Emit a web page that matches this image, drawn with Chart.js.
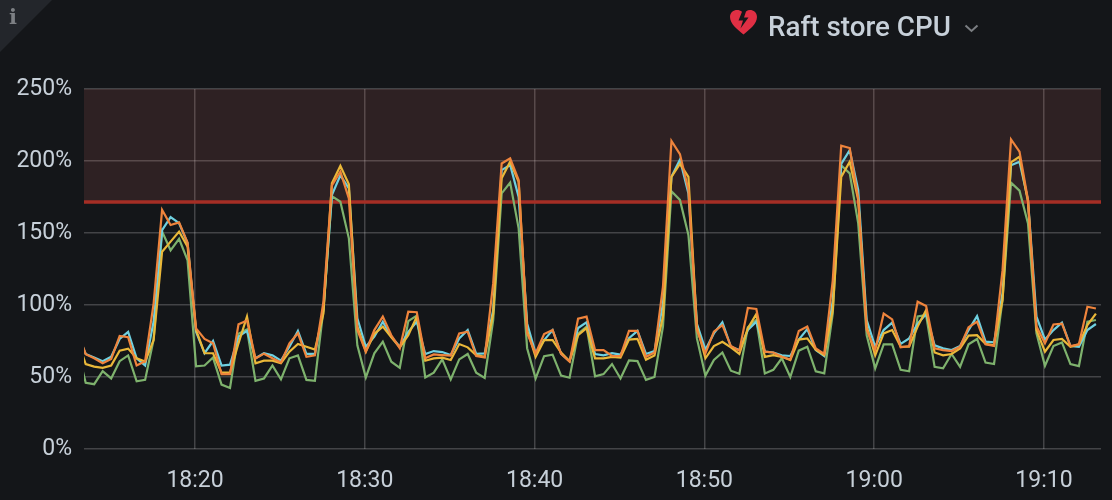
<!DOCTYPE html>
<html>
<head>
<meta charset="utf-8">
<title>Raft store CPU</title>
<script src="https://cdn.jsdelivr.net/npm/chart.js@4"></script>
<style>
  body { margin: 0; background: #141619; width: 1112px; height: 500px; overflow: hidden; position: relative; }
  canvas { position: absolute; left: 0; top: 0; }
  #corner { position: absolute; left: 0; top: 0; width: 52px; height: 52px; background: #23262b; clip-path: polygon(0 0, 100% 0, 0 100%); }
  #info { position: absolute; left: 9px; top: 4px; font: bold 21px "DejaVu Serif"; color: #7d8084; }
  #title { position: absolute; left: 768px; top: 10px; font: 500 27.8px Roboto; line-height: 34px; color: #c7d0d9; white-space: nowrap; }
  #heart { position: absolute; left: 729px; top: 9px; }
  #chevron { position: absolute; left: 964px; top: 24px; }
</style>
</head>
<body>
<canvas id="cpuChart" width="1112" height="500"></canvas>
<div id="corner"></div>
<div id="info">i</div>
<svg id="heart" width="29" height="26" viewBox="0 0 29 26">
  <path fill="#e02f44" d="M14.5 25.5 C9 21 1 15 1 8 C1 3.5 4.5 1 8 1 C10 1 11.5 1.6 13 2.8 L9.5 11.5 L14 11.5 L11.5 19.5 L19.5 8.5 L15 8.5 L17 2.4 C18.3 1.5 19.6 1 21 1 C24.5 1 28 3.5 28 8 C28 15 20 21 14.5 25.5 Z"/>
</svg>
<div id="title">Raft store CPU</div>
<svg id="chevron" width="15" height="9" viewBox="0 0 15 9">
  <path d="M1.5 1.5 L7.5 7 L13.5 1.5" fill="none" stroke="#7b7e82" stroke-width="2"/>
</svg>
<script>
// one sample every 30s, first one just off the left edge
const firstSample = 1093.06; // minutes after midnight
const sampleStep = 0.5;
const axisMin = 1093.46;
const axisMax = 1153.36;

const yTicks = [0, 50, 100, 150, 200, 250];
const threshold = 171.5;

const orangeVals = [82,
  65.8,63,59.5,62.5,78.5,77.6,58,61,101,166,155.6,157.4,143.3,83.8,76.4,73.4,52,52,86.6,89.2,62.8,66.2,63,60,73.4,80.4,64,65,102,
  183,192.6,174,82.6,67.6,82.6,92,79,70,95.3,95,63,65.7,65.2,64.8,80.3,81.4,64.5,63.6,115,198.3,201.8,186.8,80.3,66.4,79.8,82.6,
  66,60.6,90.5,91.9,68.7,68.7,64.6,64.6,82,82,64,67,112.7,213.9,204.8,180,82.6,66.4,81.5,86,71.5,68.3,97.9,97.2,67.6,67,64,
  62.2,82,85,69.9,66,117,210.6,209,174,82.6,68.7,94,90,70.6,71.5,102.3,99.3,69.9,68.7,68,
  71,84.5,88.4,72.7,71.5,124,215,206.5,173,85,73.4,86.5,87,71.5,72.7,98.8,97.6];
const cyanVals = [80,
  66,63.5,61,64,76.4,81.3,63,58,88.5,152,161,156.8,143,81.5,66.5,75,58,58.6,78,82,63,66.5,65,61.4,71,82,66,66,96.6,
  176.4,190,181,90.7,71,78,88.4,78,71,81.4,88.4,66,68,67.3,65.2,76.8,82.6,66,66.4,96.5,193.7,197.2,175,87.2,66.4,75.6,82.6,
  66,61,84,88,66,65,66.5,65.5,77,82,66,68,101,189,201,177.5,87,69,80.3,88,71,68.7,82.6,88.4,67.6,67,65,
  64.6,76,83.3,68.7,64.6,103,198,207.6,180,89.6,71,82.6,87.7,73,76.8,87,93.7,72,69.9,68.7,
  71.5,82.6,92.3,74.5,74,108,197,199.5,173,91.9,76,82.6,87.7,71.5,71,82.6,86.8];
const yellowVals = [76,
  59,57.2,56.3,58,68.3,69.7,63,60.7,75.7,137,144,151,140.5,82.7,66.5,66.5,53,53,73.4,92,59.5,61.4,61.4,59.5,67.6,73,71,69,94,
  184.5,196.7,183.8,85,67.6,80,85,77.5,70.6,79,92,61.3,62.9,63.4,61.8,72.9,70.6,65.2,64,94,188,199.5,185.6,82.6,64,75.6,75.6,
  67,61,79,84,63,63,64,63.5,76,76.5,62,65,92,189,198,189,85,63,71.5,74.5,70.6,66,83.8,93.7,64,65.2,64,
  61.8,76,76.8,69,65.2,96.5,189,199.5,173,85,65,80.3,82.6,71,71,85,96.5,67,65,66,
  69.9,78.7,79,73,72,103.5,199,203,171.7,82.6,67.6,75.7,76.4,71,72.7,86,94];
const greenVals = [70,
  46,45,54,49,61,65,47,48,76,151,138,146,131,57.4,58,63.5,44.7,42.4,80,83,47.3,49,58,48.4,63,65,48,47.3,96.6,
  175.6,171.7,146.3,72,49.7,66.4,74.5,60.6,56.4,88.8,92.6,49.7,53,62.2,48.3,62.2,66,53,49.3,89.5,177.5,185,153.2,70,49,64.5,65.5,
  51,49.5,80,85,50.5,52,59,49,61.5,61,48,50,85,179,173,148.6,76.8,51,61.8,67,54.4,52.3,84.5,89.6,52.5,55,63,
  50,68.3,71,54,52.5,94,197,191.4,156.7,79,56,72.7,72.7,55,54,92,93,57,56,66,
  57,72.7,76.4,60,59,103.5,185,179.4,156.7,80.3,57.8,71.5,74,59,57.6,88.4,89.6];

function points(values) {
  return values.map((v, i) => ({ x: firstSample + i * sampleStep, y: v }));
}

function lineSeries(label, values, color) {
  return {
    label: label,
    data: points(values),
    borderColor: color,
    borderWidth: 2.2,
    pointRadius: 0,
    tension: 0,
    fill: false,
    order: 1,
  };
}

function formatTime(value) {
  const h = Math.floor(value / 60);
  const m = Math.round(value - h * 60);
  return h + ":" + String(m).padStart(2, "0");
}

new Chart(document.getElementById("cpuChart"), {
  type: "line",
  data: {
    datasets: [
      {
        label: "threshold",
        data: [{ x: axisMin, y: threshold }, { x: axisMax, y: threshold }],
        borderColor: "#a52e25",
        borderWidth: 3.5,
        backgroundColor: "rgba(255,120,110,0.115)",
        fill: "end",
        pointRadius: 0,
        order: 5,
      },
      // first dataset ends up on top
      lineSeries("store 4", orangeVals, "#ef843c"),
      lineSeries("store 3", yellowVals, "#eab839"),
      lineSeries("store 2", cyanVals, "#6ed0e0"),
      lineSeries("store 1", greenVals, "#7eb26d"),
    ],
  },
  options: {
    responsive: false,
    animation: false,
    layout: { padding: { top: 89, right: 11, left: 0, bottom: 0 } },
    plugins: { legend: { display: false }, tooltip: { enabled: false } },
    scales: {
      x: {
        type: "linear",
        min: axisMin,
        max: axisMax,
        afterFit: (scale) => { scale.height = 51; },
        border: { display: false },
        grid: { color: "rgba(255,255,255,0.2)", lineWidth: 1.5, drawTicks: false },
        ticks: {
          stepSize: 10,
          includeBounds: false,
          autoSkip: false,
          maxRotation: 0,
          padding: 18,
          color: "#c7d0d9",
          font: { family: "Roboto", size: 23 },
          callback: formatTime,
        },
      },
      y: {
        min: yTicks[0],
        max: yTicks[yTicks.length - 1],
        afterFit: (scale) => { scale.width = 84; },
        border: { display: false },
        grid: { color: "rgba(255,255,255,0.2)", lineWidth: 1.5, drawTicks: false },
        ticks: {
          stepSize: 50,
          padding: 12,
          color: "#c7d0d9",
          font: { family: "Roboto", size: 23 },
          callback: (v) => v + "%",
        },
      },
    },
  },
});
</script>
</body>
</html>
